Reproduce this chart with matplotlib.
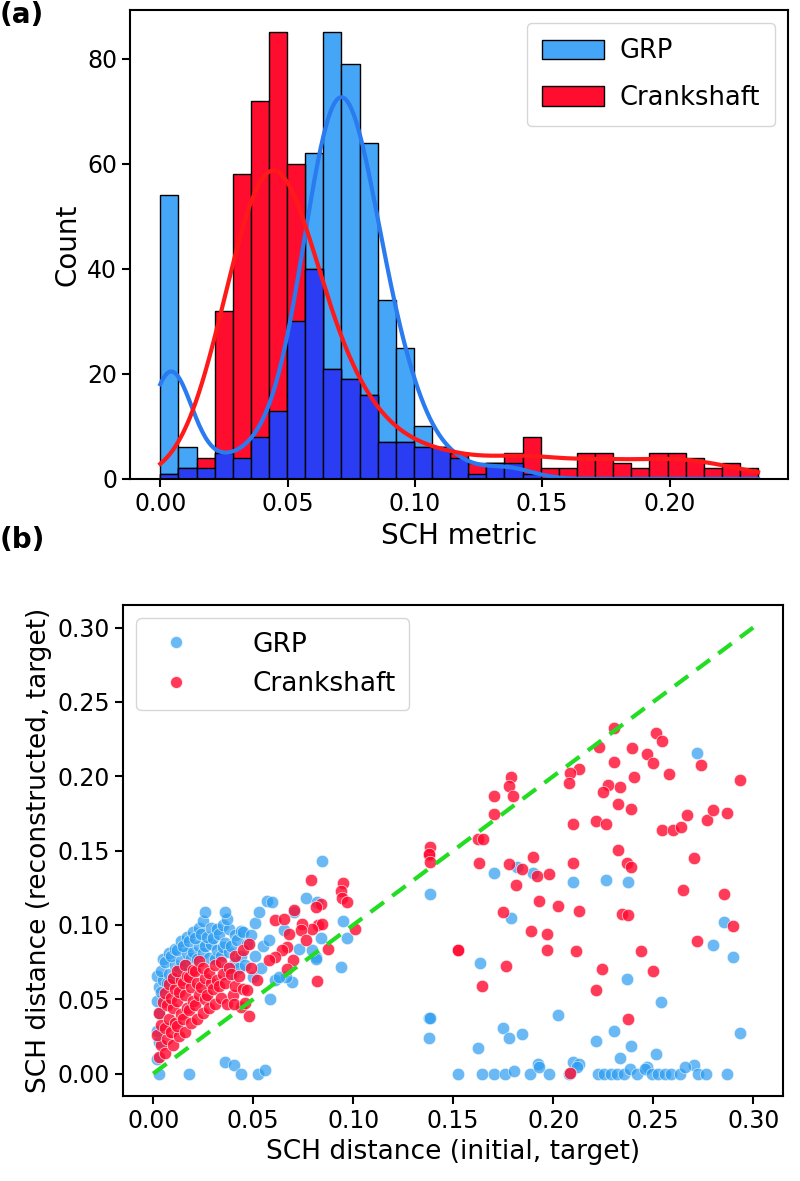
import numpy as np
import matplotlib
matplotlib.use("Agg")
import matplotlib.pyplot as plt
from matplotlib.lines import Line2D
from matplotlib.patches import Patch

plt.rcParams['font.family'] = ['DejaVu Sans']
plt.rcParams['font.size'] = 17

# ---- panel (a): histogram counts per bin (33 shared bins) ----
bin_lo = 0.0
bin_hi = 0.2348
grp_counts = [54, 6, 2, 5, 4, 8, 13, 30, 62, 85, 79, 64, 34, 25, 10, 6, 4, 1, 3, 3, 1,
              0, 0, 0, 0, 0, 0, 0, 0, 0, 0, 0, 0]
crank_counts = [1, 2, 4, 32, 58, 72, 85, 60, 40, 21, 19, 16, 7, 7, 6, 6, 5, 3, 3, 5, 8,
                2, 2, 5, 5, 3, 2, 5, 5, 4, 2, 3, 2]
labels = ['GRP', 'Crankshaft']

# ---- panel (b): scatter points (initial, reconstructed) ----
grp_x = [
    # dense cluster near origin
    0.002, 0.003, 0.002, 0.003, 0.002, 0.003, 0.002,
    0.004, 0.005, 0.004, 0.005,
    0.007, 0.008, 0.006, 0.008,
    0.010, 0.011, 0.009, 0.011,
    0.013, 0.014, 0.012, 0.014,
    0.016, 0.017, 0.015, 0.017,
    0.019, 0.020, 0.018, 0.020,
    0.022, 0.023, 0.021, 0.023,
    0.025, 0.026, 0.024, 0.025, 0.026,
    0.028, 0.029, 0.027, 0.029,
    0.031, 0.032, 0.030, 0.032,
    0.034, 0.035, 0.033, 0.035,
    0.037, 0.038, 0.036, 0.038, 0.037, 0.036,
    0.040, 0.041, 0.039, 0.041,
    0.043, 0.044, 0.042, 0.044,
    0.046, 0.047, 0.045,
    0.050, 0.051, 0.049, 0.051,
    0.054, 0.055, 0.053,
    0.057, 0.058,
    # spread along the diagonal
    0.0586, 0.0695, 0.0938, 0.0611, 0.0729, 0.0812, 0.0662,
    0.0846, 0.0950, 0.0968, 0.0816, 0.0841, 0.0762, 0.0821, 0.0704,
    0.0653, 0.0628, 0.0595, 0.0796,
    # near zero, left
    0.0028, 0.0178, 0.0357, 0.0402, 0.0439, 0.0526, 0.0561,
    # far region
    0.2719, 0.1385, 0.1705, 0.1817, 0.1901, 0.2097, 0.2264, 0.2375,
    0.1787, 0.2852, 0.2797, 0.2898, 0.1633, 0.2367, 0.2541, 0.2026,
    0.1379, 0.1379, 0.1750, 0.1779, 0.1843, 0.1625, 0.2216, 0.2303,
    0.2390, 0.2332, 0.2513, 0.2935, 0.2702, 0.1926, 0.2097, 0.2127,
    0.2471, 0.1382,
    # bottom row
    0.1526, 0.1646, 0.1704, 0.1761, 0.1804, 0.1885, 0.1928, 0.1978,
    0.2080, 0.2117, 0.2222, 0.2254, 0.2287, 0.2320, 0.2352, 0.2385,
    0.2417, 0.2461, 0.2493, 0.2526, 0.2559, 0.2591, 0.2635, 0.2657,
    0.2722, 0.2765, 0.2867,
]
grp_y = [
    0.010, 0.021, 0.029, 0.041, 0.049, 0.058, 0.066,
    0.055, 0.063, 0.069, 0.077,
    0.061, 0.067, 0.075, 0.081,
    0.064, 0.073, 0.079, 0.084,
    0.071, 0.076, 0.083, 0.089,
    0.073, 0.081, 0.086, 0.092,
    0.078, 0.082, 0.089, 0.095,
    0.077, 0.086, 0.091, 0.098,
    0.081, 0.086, 0.094, 0.103, 0.109,
    0.078, 0.087, 0.092, 0.098,
    0.077, 0.083, 0.091, 0.097,
    0.079, 0.085, 0.094, 0.100,
    0.071, 0.082, 0.088, 0.097, 0.104, 0.109,
    0.067, 0.075, 0.086, 0.093,
    0.071, 0.079, 0.090, 0.096,
    0.073, 0.087, 0.095,
    0.065, 0.079, 0.093, 0.101,
    0.071, 0.086, 0.109,
    0.116, 0.090,
    0.0505, 0.0616, 0.0717, 0.0628, 0.0841, 0.0785, 0.0650,
    0.1429, 0.1027, 0.0915, 0.0774, 0.0915, 0.1178, 0.1155, 0.1087,
    0.0964, 0.0650, 0.1155, 0.0830,
    0.0, 0.0, 0.0078, 0.0056, 0.0, 0.0, 0.0022,
    0.2158, 0.1211, 0.1350, 0.1390, 0.1350, 0.1290, 0.1301, 0.1290,
    0.1047, 0.1020, 0.0863, 0.0785, 0.0747, 0.0639, 0.0482, 0.0392,
    0.0377, 0.0240, 0.0307, 0.0240, 0.0269, 0.0172, 0.0217, 0.0287,
    0.0184, 0.0105, 0.0135, 0.0276, 0.0056, 0.0063, 0.0078, 0.0063,
    0.0045, 0.0374,
    0.0, 0.0, 0.0, 0.0, 0.0016, 0.0, 0.0046, 0.0,
    0.0, 0.0046, 0.0, 0.0, 0.0, 0.0, 0.0, 0.0030,
    0.0, 0.0030, 0.0, 0.0, 0.0, 0.0, 0.0, 0.0046,
    0.0, 0.0, 0.0,
]

crank_x = [
    # dense cluster near origin
    0.003, 0.004, 0.002, 0.004, 0.003, 0.005,
    0.006, 0.007, 0.006, 0.008, 0.007, 0.006, 0.008,
    0.010, 0.009, 0.011, 0.010, 0.009, 0.011, 0.010,
    0.013, 0.012, 0.014, 0.012, 0.013, 0.014, 0.012,
    0.016, 0.015, 0.017, 0.016, 0.015, 0.017, 0.016,
    0.019, 0.018, 0.020, 0.019, 0.018, 0.020,
    0.022, 0.021, 0.023, 0.022, 0.021, 0.023,
    0.025, 0.026, 0.024, 0.026, 0.025,
    0.028, 0.027, 0.029, 0.028,
    0.031, 0.030, 0.032, 0.031,
    0.034, 0.033, 0.035, 0.034,
    0.037, 0.036, 0.038,
    0.040, 0.041, 0.039, 0.041,
    0.044, 0.045, 0.043, 0.045,
    0.048, 0.047, 0.049, 0.048,
    0.0402, 0.0461, 0.0519,
    # middle spread
    0.0791, 0.0950, 0.0938, 0.0946, 0.0971, 0.0837, 0.0812, 0.0826,
    0.0843, 0.0796, 0.1010, 0.0876, 0.0821, 0.1524, 0.1379, 0.0608,
    0.0653, 0.0704, 0.0742, 0.0737, 0.0762, 0.0670, 0.0645, 0.0678,
    0.0698, 0.0611, 0.0578, 0.0670,
    # far region
    0.2303, 0.2513, 0.2543, 0.2228, 0.2395, 0.2471, 0.2499, 0.2303,
    0.2739, 0.2579, 0.2935, 0.2404, 0.2127, 0.2082, 0.2077, 0.2273,
    0.2249, 0.2332, 0.2323, 0.2387, 0.1789, 0.1779, 0.1801, 0.1705,
    0.1705, 0.2097, 0.2214, 0.2266, 0.2543, 0.2601, 0.2638, 0.2667,
    0.2767, 0.2797, 0.2869, 0.1625, 0.1650, 0.1382, 0.1379, 0.1382,
    0.1630, 0.1901, 0.1779, 0.1843, 0.1921, 0.1981, 0.2097, 0.2323,
    0.2367, 0.2387, 0.2702, 0.1814, 0.1931, 0.2026, 0.2127, 0.1750,
    0.2345, 0.2375, 0.2651, 0.2856, 0.2898, 0.1887, 0.1968, 0.1968,
    0.2114, 0.1524, 0.1764, 0.1646, 0.2244, 0.2440, 0.2499, 0.2719,
    0.2216, 0.2373, 0.2085,
]
crank_y = [
    0.011, 0.019, 0.026, 0.033, 0.041, 0.048,
    0.014, 0.023, 0.031, 0.037, 0.046, 0.054, 0.060,
    0.019, 0.028, 0.034, 0.044, 0.051, 0.057, 0.064,
    0.025, 0.032, 0.040, 0.049, 0.055, 0.063, 0.069,
    0.028, 0.037, 0.044, 0.053, 0.061, 0.066, 0.073,
    0.034, 0.043, 0.049, 0.058, 0.065, 0.070,
    0.037, 0.046, 0.053, 0.061, 0.069, 0.076,
    0.041, 0.050, 0.058, 0.064, 0.071,
    0.044, 0.053, 0.061, 0.068,
    0.047, 0.057, 0.063, 0.073,
    0.051, 0.059, 0.067, 0.075,
    0.047, 0.061, 0.071,
    0.053, 0.059, 0.067, 0.079,
    0.045, 0.057, 0.066, 0.083,
    0.039, 0.056, 0.071, 0.087,
    0.0471, 0.0475, 0.0628,
    0.1301, 0.1283, 0.1229, 0.1178, 0.1155, 0.1144, 0.1121, 0.0998,
    0.1009, 0.0976, 0.0971, 0.0836, 0.0623, 0.0834, 0.1469, 0.1032,
    0.1043, 0.1099, 0.1005, 0.0964, 0.0902, 0.0852, 0.0830, 0.0942,
    0.0767, 0.0785, 0.0762, 0.0707,
    0.2322, 0.2288, 0.2238, 0.2198, 0.2187, 0.2149, 0.2090, 0.2099,
    0.2075, 0.2014, 0.1974, 0.1996, 0.2052, 0.2023, 0.1956, 0.1940,
    0.1895, 0.1925, 0.1812, 0.1779, 0.1996, 0.1933, 0.1866, 0.1866,
    0.1743, 0.1682, 0.1700, 0.1682, 0.1642, 0.1642, 0.1660, 0.1738,
    0.1709, 0.1772, 0.1750, 0.1575, 0.1581, 0.1521, 0.1476, 0.1424,
    0.1417, 0.1458, 0.1408, 0.1379, 0.1328, 0.1341, 0.1417, 0.1507,
    0.1417, 0.1390, 0.1447, 0.1272, 0.1162, 0.1126, 0.1094, 0.1087,
    0.1076, 0.1070, 0.1233, 0.1211, 0.0991, 0.0960, 0.0942, 0.0834,
    0.0825, 0.0834, 0.0724, 0.0587, 0.0707, 0.0825, 0.0689, 0.0892,
    0.0561, 0.0365, 0.0004,
]

c_grp_bar = '#45a6f7'
c_crank_bar = '#ff0d2f'
c_both_bar = '#2a3df2'
c_grp_line = '#2a7af0'
c_crank_line = '#ff1a1a'
c_grp_pt = '#2b9cf2'
c_crank_pt = '#ff0a30'

fig = plt.figure(figsize=(8, 11.81), dpi=100)
ax1 = fig.add_axes([0.163, 0.5945, 0.822, 0.397])
ax2 = fig.add_axes([0.154, 0.072, 0.825, 0.4155])

# (a) histogram
edges = np.linspace(bin_lo, bin_hi, len(grp_counts) + 1)
w = edges[1] - edges[0]
grp_c = np.array(grp_counts)
crank_c = np.array(crank_counts)
ax1.bar(edges[:-1], grp_c, width=w, align='edge', color=c_grp_bar, edgecolor='black', lw=1)
ax1.bar(edges[:-1], crank_c, width=w, align='edge', color=c_crank_bar, edgecolor='black', lw=1)
ax1.bar(edges[:-1], np.minimum(grp_c, crank_c), width=w, align='edge',
        color=c_both_bar, edgecolor='black', lw=1)

# kde lines scaled to counts, like seaborn's histplot(kde=True)
centers = (edges[:-1] + edges[1:]) / 2
xs = np.linspace(bin_lo, bin_hi, 400)
for counts, col in [(grp_c, c_grp_line), (crank_c, c_crank_line)]:
    n = counts.sum()
    mean = (counts * centers).sum() / n
    sd = np.sqrt((counts * (centers - mean) ** 2).sum() / n)
    bw = sd * n ** (-0.2)
    dens = (counts[None, :] * np.exp(-0.5 * ((xs[:, None] - centers[None, :]) / bw) ** 2)).sum(1)
    dens = dens / (n * bw * np.sqrt(2 * np.pi))
    ax1.plot(xs, dens * n * w, color=col, lw=3)

ax1.set_xlabel('SCH metric', fontsize=20)
ax1.set_ylabel('Count', fontsize=20)
ax1.set_xticks([0.0, 0.05, 0.10, 0.15, 0.20])
ax1.set_yticks([0, 20, 40, 60, 80])
ax1.legend(handles=[Patch(facecolor=c_grp_bar, edgecolor='black', label=labels[0]),
                    Patch(facecolor=c_crank_bar, edgecolor='black', label=labels[1])],
           loc='upper right', fontsize=18.5, handlelength=2.4, handleheight=0.8,
           borderpad=0.6, labelspacing=0.8, handletextpad=0.6)

# (b) scatter
ax2.scatter(grp_x, grp_y, s=80, color=c_grp_pt, alpha=0.7, edgecolor='white', lw=0.5)
ax2.scatter(crank_x, crank_y, s=80, color=c_crank_pt, alpha=0.8, edgecolor='white', lw=0.5)
ax2.plot([0, 0.3], [0, 0.3], color='#22dd22', lw=3, ls=(0, (4, 2.5)))
ax2.set_xlabel('SCH distance (initial, target)', fontsize=19)
ax2.set_ylabel('SCH distance (reconstructed, target)', fontsize=19)
ax2.set_xticks([0.0, 0.05, 0.10, 0.15, 0.20, 0.25, 0.30])
ax2.set_yticks([0.0, 0.05, 0.10, 0.15, 0.20, 0.25, 0.30])
ax2.legend(handles=[Line2D([], [], ls='', marker='o', ms=9, color=c_grp_pt, alpha=0.7,
                           markeredgecolor='white', label=labels[0]),
                    Line2D([], [], ls='', marker='o', ms=9, color=c_crank_pt, alpha=0.8,
                           markeredgecolor='white', label=labels[1])],
           loc='upper left', fontsize=19, handletextpad=1.9, borderpad=0.5,
           labelspacing=0.5)

for ax in (ax1, ax2):
    for s in ax.spines.values():
        s.set_linewidth(1.5)
    ax.tick_params(width=1.5, length=6)

fig.text(0.0, 0.999, '(a)', fontsize=20, weight='bold', va='top')
fig.text(0.0, 0.555, '(b)', fontsize=20, weight='bold', va='top')

fig.savefig('out.png', dpi=100)
